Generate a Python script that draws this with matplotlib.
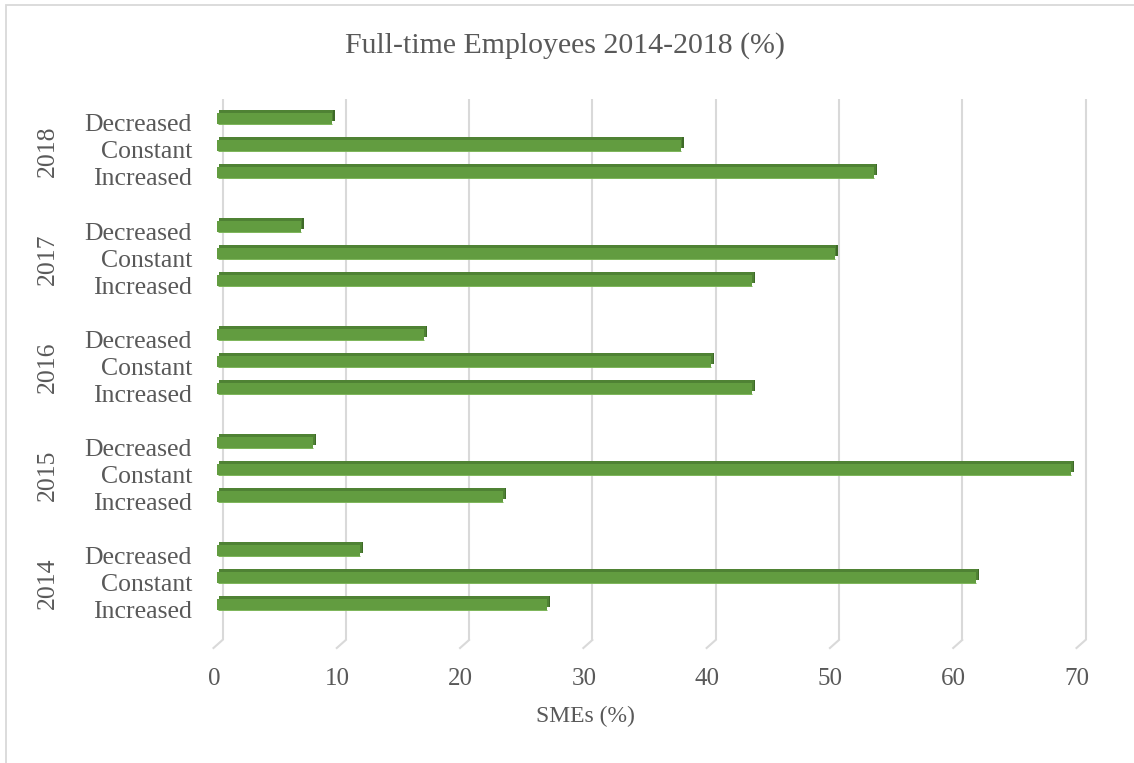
import matplotlib
matplotlib.use("Agg")
import matplotlib.pyplot as plt
import matplotlib.transforms as mtransforms
from matplotlib.lines import Line2D
from matplotlib.patches import Rectangle

# ---- data -------------------------------------------------------------
years = ["2014", "2015", "2016", "2017", "2018"]
levels = ["Increased", "Constant", "Decreased"]   # bottom-to-top within a year
increased = [26.8, 23.2, 43.4, 43.4, 53.3]
constant = [61.6, 69.3, 40.1, 50.1, 37.6]
decreased = [11.6, 7.8, 16.8, 6.8, 9.3]
x_ticks = [0, 10, 20, 30, 40, 50, 60, 70]

title = "Full-time Employees 2014-2018 (%)"
x_label = "SMEs (%)"

# ---- style ------------------------------------------------------------
W, H = 1134, 763
DPI = 100
FONT = "Liberation Serif"
TEXT = "#595959"
GRID = "#D9D9D9"
FRONT = "#629C40"
TOP = "#4F8234"
SIDE = "#3E6A28"
EDGE = "#7BB457"
BAR_H = 0.42

plt.rcParams["font.family"] = [FONT, "DejaVu Serif"]

fig = plt.figure(figsize=(W / DPI, H / DPI), dpi=DPI)
fig.patch.set_facecolor("white")

# chart-area border (left and top edges visible)
fig.add_artist(Rectangle((6 / W, -0.05), 1.2, 1 - 5 / H + 0.05,
                         transform=fig.transFigure, fill=False,
                         edgecolor=GRID, linewidth=1.3))

ax = fig.add_axes([217 / W, 1 - 640 / H, 863 / W, 541 / H])
ax.set_xlim(0, 70)
ax.set_ylim(-1.31, 18.72)
for s in ax.spines.values():
    s.set_visible(False)
ax.set_facecolor("none")
ax.set_yticks([])

# slot positions: three bars per year, one empty slot between years
series = [increased, constant, decreased]
pos, vals, names = [], [], []
for g in range(len(years)):
    for k, ser in enumerate(series):
        pos.append(4 * g + k)
        vals.append(ser[g])
        names.append(levels[k])

# back-wall gridlines with the floor bend
fig.canvas.draw()
xform = ax.get_xaxis_transform()
for t in x_ticks:
    ax.plot([t, t], [0, 1], transform=xform + mtransforms.ScaledTranslation(
        5.5 / DPI, 0, fig.dpi_scale_trans), color=GRID, lw=1.5,
        solid_capstyle="butt", zorder=0, clip_on=False)
    x0, y0 = xform.transform((t, 0))
    fig.add_artist(Line2D([x0 + 5.5, x0 - 3.5], [y0, y0 - 8],
                          transform=mtransforms.IdentityTransform(),
                          color=GRID, lw=1.5))

# 3-D looking bars: depth faces behind, front face on top
side_off = ax.transData + mtransforms.ScaledTranslation(3 / DPI, 3 / DPI, fig.dpi_scale_trans)
top_off = ax.transData + mtransforms.ScaledTranslation(1.5 / DPI, 3 / DPI, fig.dpi_scale_trans)
ax.barh(pos, vals, height=BAR_H, color=SIDE, transform=side_off, zorder=2)
ax.barh(pos, vals, height=BAR_H, color=TOP, transform=top_off, zorder=3)
ax.barh(pos, vals, height=BAR_H, color=FRONT, zorder=4)
ax.hlines([p - BAR_H / 2 + 0.02 for p in pos], 0.1, vals, color=EDGE, lw=0.7, zorder=5)

# x axis ticks, centred on the front plane
ax.set_xticks(x_ticks)
ax.set_xticklabels([str(t) for t in x_ticks])
ax.tick_params(axis="x", length=0, pad=20, labelsize=18, labelcolor=TEXT)
for lbl in ax.get_xticklabels():
    lbl.set_transform(lbl.get_transform() + mtransforms.ScaledTranslation(
        -3 / DPI, 0, fig.dpi_scale_trans))

# category and year labels
ytr = ax.get_yaxis_transform()
for p, n in zip(pos, names):
    ax.text(-25 / 863, p - 0.26, n, transform=ytr, ha="right", va="center",
            fontsize=18.5, color=TEXT)
for g, y in enumerate(years):
    ax.text(-169 / 863, 4 * g + 1 - 0.2, y, transform=ytr, ha="center",
            va="center", rotation=90, fontsize=18.5, color=TEXT)

fig.text(565 / W, 1 - 46 / H, title, ha="center", va="center",
         fontsize=21.5, color=TEXT)
fig.text(585 / W, 1 - 716 / H, x_label, ha="center", va="center",
         fontsize=17, color=TEXT)

fig.savefig("out.png", dpi=DPI, facecolor="white")
